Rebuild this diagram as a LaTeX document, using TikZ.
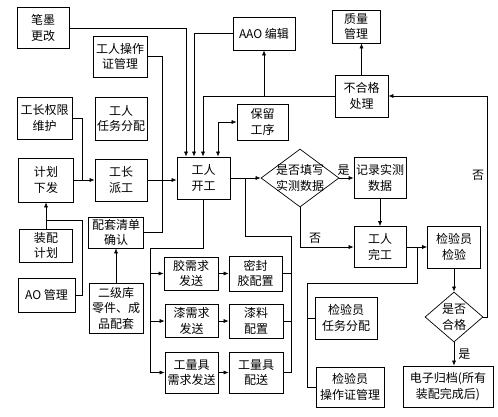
\documentclass[tikz,border=0pt]{standalone}
\usepackage{fontspec}
\newfontfamily\cjk{Noto Sans CJK SC}
\usetikzlibrary{arrows.meta}
\usetikzlibrary{shapes.geometric}
\usetikzlibrary{calc}

\tikzset{
  blk/.style 2 args={draw, line width=0.7pt, minimum width=#1, minimum height=#2,
    inner sep=0pt, align=center, font=\cjk\fontsize{12}{15.5}\selectfont},
  dia/.style 2 args={draw, line width=0.7pt, shape=diamond, minimum width=#1,
    minimum height=#2, inner sep=0pt},
  txt/.style={inner sep=0pt, align=center, font=\cjk\fontsize{12}{15.5}\selectfont},
  lnk/.style={line width=0.6pt},
  arr/.style={line width=0.6pt, -{Latex[length=5pt,width=4pt]}},
}

\begin{document}
\begin{tikzpicture}[x=1pt,y=-1pt]
  \useasboundingbox (0,0) rectangle (498,416);

  % Define the blocks on the left
  \node[blk={52pt}{41pt}] (bmgg) at (43,28) {笔墨\\更改};
  \node[blk={54pt}{41pt}] (czgl) at (120,56.5) {工人操作\\证管理};
  \node[blk={55pt}{42pt}] (qxwh) at (44.5,118) {工长权限\\维护};
  \node[blk={52pt}{43pt}] (rwfp) at (121,118.5) {工人\\任务分配};
  \node[blk={55pt}{44pt}] (jhxf) at (46,180) {计划\\下发};
  \node[blk={52pt}{42pt}] (pg) at (121,180) {工长\\派工};
  \node[blk={53pt}{33pt}] (zpjh) at (46,245.5) {装配\\计划};
  \node[blk={55pt}{31pt}] (qdqr) at (116,232.5) {配套清单\\确认};
  \node[blk={57pt}{34pt}] (aogl) at (46.5,295) {AO 管理};
  \node[blk={54pt}{50pt}] (ejk) at (116,308) {二级库\\零件、成\\品配套};

  % Define the blocks in the middle
  \node[blk={62pt}{33pt}] (aao) at (264,33.5) {AAO 编辑};
  \node[blk={51pt}{36pt}] (blgx) at (262.5,122) {保留\\工序};
  \node[blk={53pt}{42pt}] (kg) at (203.5,178) {工人\\开工};
  \node[blk={54pt}{33pt}] (jiao) at (191,273.5) {胶需求\\发送};
  \node[blk={53pt}{35pt}] (mfj) at (255.5,273.5) {密封\\胶配置};
  \node[blk={53pt}{33pt}] (qi) at (191.5,321) {漆需求\\发送};
  \node[blk={54pt}{34pt}] (qlpz) at (256,321) {漆料\\配置};
  \node[blk={53pt}{41pt}] (gljx) at (191.5,372.5) {工量具\\需求发送};
  \node[blk={54pt}{41pt}] (glps) at (256,372.5) {工量具\\配送};

  % Define the blocks on the right
  \node[blk={48pt}{33pt}] (zlgl) at (356,26.5) {质量\\管理};
  \node[blk={53pt}{42pt}] (bhg) at (361.5,96) {不合格\\处理};
  \node[dia={78pt}{58pt}] (txsc) at (300,178) {};
  \node[txt] (txlbl) at (txsc) {是否填写\\实测数据};
  \node[blk={52pt}{41pt}] (jlsc) at (380,178) {记录实测\\数据};
  \node[blk={52pt}{41pt}] (wg) at (380,247) {工人\\完工};
  \node[blk={53pt}{42pt}] (jyjy) at (454,247) {检验员\\检验};
  \node[dia={58pt}{50pt}] (hg) at (454,317) {};
  \node[txt] (hglbl) at (hg) {是否\\合格};
  \node[blk={62pt}{42pt}] (jyrw) at (346,318) {检验员\\任务分配};
  \node[blk={68pt}{40pt}] (jycz) at (350,387) {检验员\\操作证管理};
  \node[blk={90pt}{41pt}] (dzgd) at (448,386.5) {电子归档(所有\\装配完成后)};

  % Inputs to the start of work
  \draw[arr] (bmgg.east) -| ([xshift=-17.5pt]kg.north);
  \draw[arr] (aao.west) -| ([xshift=-9.5pt]kg.north);
  \draw[arr] (bhg.west) -| ([xshift=-0.5pt]kg.north);
  \draw[arr] (aao.south |- bhg.west) -- (aao.south);
  \draw[line width=0.6pt, {Latex[length=5pt,width=4pt]}-{Latex[length=5pt,width=4pt]}]
    ([xshift=14.5pt]kg.north) |- (blgx.west);

  % Left column into the foreman
  \coordinate (j1) at ($(pg.east)!0.5!(kg.west)$);
  \draw[lnk] (czgl.east) -| (j1 |- qdqr.east) -- (qdqr.east);
  \draw[arr] (pg.east) -- (pg.east -| kg.west);
  \coordinate (j2) at ($(jhxf.east)!0.4!(pg.west)$);
  \draw[lnk] (qxwh.east) -| (j2);
  \draw[arr] (jhxf.east) -- (jhxf.east -| pg.west);
  \draw[arr] (zpjh.north) -- (jhxf.south);
  \draw[lnk] (aogl.east) -| (j2 |- 0,220) -- (zpjh.north |- 0,220);
  \draw[arr] (ejk.north) -- (qdqr.south);

  % Material requests
  \coordinate (b1) at (150,248);
  \draw[lnk] (kg.south) |- (b1) -- (b1 |- gljx.west);
  \coordinate (c1) at (291,236);
  \draw[lnk] (kg.east -| 245,0) |- (c1) -- (c1 |- glps.east);
  \foreach \a/\b in {jiao/mfj, qi/qlpz, gljx/glps} {
    \draw[arr] (b1 |- \a.west) -- (\a.west);
    \draw[arr] (\a.east) -- (\a.east -| \b.west);
    \draw[lnk] (\b.east) -- (\b.east -| c1);
  }

  % Measured data decision
  \draw[arr] (kg.east) -- (txsc.west);
  \draw[arr] (txsc.east) -- (jlsc.west) node[txt, pos=0.3, above=2pt] (yes1) {是};
  \draw[arr] (txsc.south) |- (wg.west) node[txt, pos=0.64, above=3pt] (no1) {否};
  \draw[arr] (jlsc.south) -- (wg.north);

  % Inspection
  \draw[arr] (wg.east) -- (jyjy.west);
  \coordinate (d1) at (307,283);
  \draw[lnk] (wg.east -| 417,0) |- (d1) -- (d1 |- jycz.west);
  \draw[lnk] (d1 |- jyrw.west) -- (jyrw.west);
  \draw[lnk] (d1 |- jycz.west) -- (jycz.west);
  \draw[arr] (jyjy.south) -- (hg.north);
  \draw[arr] (hg.south) -- (hg.south |- dzgd.north) node[txt, midway, right=4pt] (yes2) {是};
  \draw[arr] (hg.east) -| ([xshift=4pt]hg.east |- bhg.east) -- (bhg.east);
  \node[txt] (no2) at (478,175) {否};
  \draw[arr] (bhg.north) -- (bhg.north |- zlgl.south);

\end{tikzpicture}
\end{document}
